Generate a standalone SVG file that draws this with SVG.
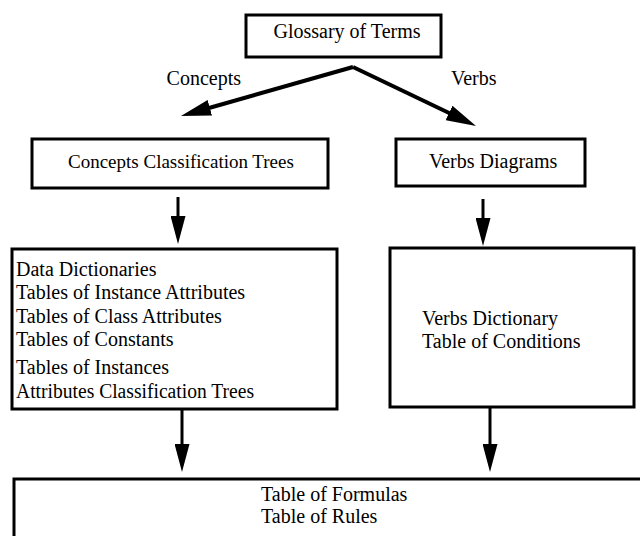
<svg xmlns="http://www.w3.org/2000/svg" width="640" height="536" viewBox="0 0 640 536">
<defs>
<style>
.box{fill:#fff;stroke:#000;stroke-width:3}
.t{font-family:"Liberation Serif","Times New Roman",serif;font-size:20px;fill:#000}
.c{text-anchor:middle}
.edge{stroke:#000;fill:none}
.thick{stroke-width:4}
.thin{stroke-width:3}
</style>
<marker id="ah" viewBox="0 0 30 16" refX="10" refY="8" markerWidth="30" markerHeight="16" markerUnits="userSpaceOnUse" orient="auto">
<path d="M0,0 L30,8 L0,16 z" fill="#000"/>
</marker>
<marker id="ahd" viewBox="0 0 28 15" refX="10" refY="7.5" markerWidth="28" markerHeight="15" markerUnits="userSpaceOnUse" orient="auto">
<path d="M0,0 L28,7.5 L0,15 z" fill="#000"/>
</marker>
</defs>
<rect width="640" height="536" fill="#fff"/>
<g id="connectors">
<line class="edge thick" x1="353" y1="67" x2="200.2" y2="110.5" marker-end="url(#ah)"/>
<line class="edge thick" x1="353" y1="67" x2="458" y2="117.3" marker-end="url(#ah)"/>
<line class="edge thin" x1="178" y1="197" x2="178" y2="226" marker-end="url(#ahd)"/>
<line class="edge thin" x1="483" y1="199" x2="483" y2="228" marker-end="url(#ahd)"/>
<line class="edge thin" x1="182" y1="409" x2="182" y2="454" marker-end="url(#ahd)"/>
<line class="edge thin" x1="490" y1="407" x2="490" y2="454" marker-end="url(#ahd)"/>
<text class="t" x="241" y="85" text-anchor="end">Concepts</text>
<text class="t" x="451" y="85">Verbs</text>
</g>
<g id="glossary">
<rect class="box" x="246" y="15" width="195" height="42"/>
<text class="t c" x="347" y="38">Glossary of Terms</text>
</g>
<g id="concepts-trees">
<rect class="box" x="32" y="139" width="296" height="49"/>
<text class="t" x="68" y="168" style="font-size:19px">Concepts Classification Trees</text>
</g>
<g id="verbs-diagrams">
<rect class="box" x="396" y="139" width="189" height="47"/>
<text class="t" x="429" y="168">Verbs Diagrams</text>
</g>
<g id="data-dictionaries">
<rect class="box" x="12" y="249" width="325" height="160"/>
<text class="t" x="16" y="276">Data Dictionaries</text>
<text class="t" x="16" y="299">Tables of Instance Attributes</text>
<text class="t" x="16" y="323">Tables of Class Attributes</text>
<text class="t" x="16" y="346">Tables of Constants</text>
<text class="t" x="16" y="374">Tables of Instances</text>
<text class="t" x="16" y="398" textLength="238" lengthAdjust="spacingAndGlyphs">Attributes Classification Trees</text>
</g>
<g id="verbs-dictionary">
<rect class="box" x="390" y="248" width="244" height="159"/>
<text class="t" x="422" y="325">Verbs Dictionary</text>
<text class="t" x="422" y="348">Table of Conditions</text>
</g>
<g id="formulas-rules">
<rect class="box" x="14" y="479" width="640" height="80"/>
<text class="t" x="261" y="501">Table of Formulas</text>
<text class="t" x="261" y="523">Table of Rules</text>
</g>
</svg>
